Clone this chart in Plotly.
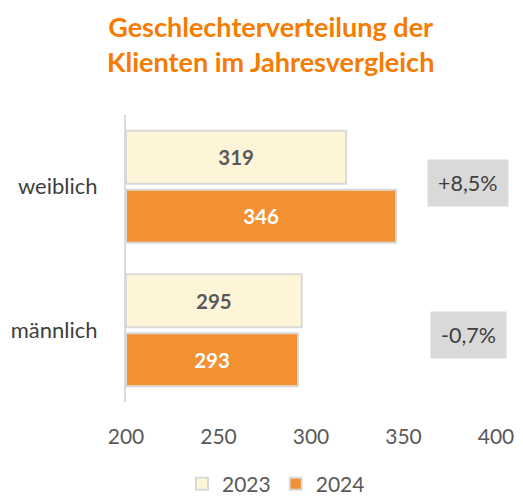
import plotly.graph_objects as go

categories = ["weiblich", "männlich"]
values_2023 = [319, 295]
values_2024 = [346, 293]
years = ["2023", "2024"]
x_ticks = [200, 250, 300, 350, 400]
axis_base = 200

font_family = "Lato, 'Open Sans', sans-serif"
fig = go.Figure()
fig.add_trace(go.Bar(
    y=categories, x=[v - axis_base for v in values_2023], base=axis_base,
    orientation="h", name=years[0],
    marker=dict(color="#FEF5D9", line=dict(color="#D9D9D9", width=2)),
    text=[str(v) for v in values_2023], textposition="inside",
    insidetextanchor="middle",
    textfont=dict(family=font_family, size=20.5, color="#595959", weight="bold"),
))
fig.add_trace(go.Bar(
    y=categories, x=[v - axis_base for v in values_2024], base=axis_base,
    orientation="h", name=years[1],
    marker=dict(color="#F39033", line=dict(color="#D9D9D9", width=2)),
    text=[str(v) for v in values_2024], textposition="inside",
    insidetextanchor="middle",
    textfont=dict(family=font_family, size=20.5, color="#FFFFFF", weight="bold"),
))

shifts = [4, -5]
for cat, a, b, sh in zip(categories, values_2023, values_2024, shifts):
    pct = (b - a) / a * 100
    label = ("+" if pct >= 0 else "") + f"{pct:.1f}".replace(".", ",") + "%"
    fig.add_annotation(
        x=385, y=cat, xref="x", yref="y", text=label, showarrow=False,
        yshift=sh, bgcolor="#D9D9D9", borderpad=10,
        font=dict(family=font_family, size=21.5, color="#404040"),
    )

# title as paper annotation
fig.add_annotation(
    text="Geschlechterverteilung der<br>Klienten im Jahresvergleich",
    xref="paper", yref="paper", x=(270 - 126) / 370, xanchor="center",
    y=(402 - 8) / 287, yanchor="top", showarrow=False,
    font=dict(family=font_family, size=27, color="#F57C00", weight="bold"),
)

fig.update_layout(
    width=523, height=499,
    margin=dict(l=126, r=27, t=115, b=97, autoexpand=False),
    paper_bgcolor="white", plot_bgcolor="white",
    barmode="group", bargap=0.18, bargroupgap=0.1,
    xaxis=dict(
        range=[200, 400], tickvals=x_ticks, showgrid=False, zeroline=False,
        showline=False, ticks="", ticklabelstandoff=20,
        tickfont=dict(family=font_family, size=21, color="#595959"),
    ),
    yaxis=dict(
        autorange="reversed", showgrid=False, zeroline=False,
        showline=True, linecolor="#D9D9D9", linewidth=2, ticks="",
        ticklabelstandoff=22,
        tickfont=dict(family=font_family, size=22, color="#404040"),
    ),
    legend=dict(
        orientation="h", x=(276 - 126) / 370, xanchor="center",
        y=(402 - 484) / 287, yanchor="middle",
        font=dict(family=font_family, size=21, color="#595959"),
    ),
    showlegend=True,
)

fig.write_html("out.html", config={"displayModeBar": False},
               post_script="document.body.style.margin='0';")
